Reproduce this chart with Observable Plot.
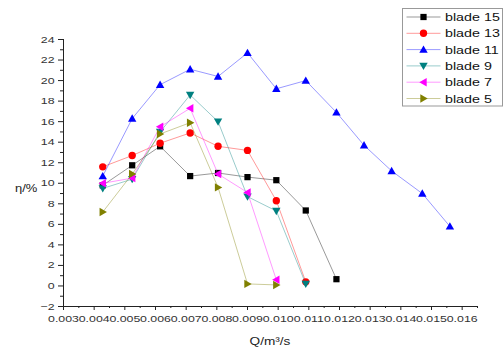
<!DOCTYPE html>
<html>
<head>
<meta charset="utf-8">
<script src="https://cdn.jsdelivr.net/npm/d3@7"></script>
<script src="https://cdn.jsdelivr.net/npm/@observablehq/plot@0.6"></script>
<style>
  html, body { margin: 0; padding: 0; background: #fff; }
</style>
</head>
<body>
<div id="chart"></div>
<script>
// Flow rate Q (m^3/s) grid
const Q = [0.00428, 0.00524, 0.00615, 0.00713, 0.00804, 0.00900, 0.00994, 0.0109, 0.0119, 0.0128, 0.0137, 0.0147, 0.0156];
// Efficiency η (%) per blade count
const blade15 = [9.8, 11.75, 13.6, 10.7, 11.0, 10.6, 10.3, 7.35, 0.66];
const blade13 = [11.6, 12.7, 13.9, 14.9, 13.6, 13.2, 8.3, 0.4];
const blade11 = [10.7, 16.3, 19.6, 21.1, 20.4, 22.7, 19.2, 20.0, 16.9, 13.7, 11.2, 9.0, 5.8];
const blade9  = [9.5, 10.4, 15.0, 18.6, 16.0, 8.7, 7.3, 0.2];
const blade7  = [10.0, 10.5, 15.5, 17.3, 10.9, 9.1, 0.6];
const blade5  = [7.2, 10.9, 14.8, 15.9, 9.6, 0.2, 0.1];
const names = ["blade 15", "blade 13", "blade 11", "blade 9", "blade 7", "blade 5"];
const xTicks = [0.003,0.004,0.005,0.006,0.007,0.008,0.009,0.010,0.011,0.012,0.013,0.014,0.015,0.016];
const yTicks = [-2,0,2,4,6,8,10,12,14,16,18,20,22,24];

function poly(pts) {
  return { draw(ctx, size) {
    const r = Math.sqrt(size / Math.PI);
    ctx.moveTo(pts[0][0]*r, pts[0][1]*r);
    for (let i = 1; i < pts.length; i++) ctx.lineTo(pts[i][0]*r, pts[i][1]*r);
    ctx.closePath();
  }};
}
const sqSym = { draw(ctx, size) { const r = Math.sqrt(size/Math.PI)*0.78; ctx.rect(-r,-r,2*r,2*r); } };
const circSym = { draw(ctx, size) { const r = Math.sqrt(size/Math.PI)*0.92; ctx.moveTo(r,0); ctx.arc(0,0,r,0,2*Math.PI); } };
const upSym = poly([[0,-1.05],[1.05,0.8],[-1.05,0.8]]);
const downSym = poly([[0,1.05],[1.05,-0.8],[-1.05,-0.8]]);
const leftSym = poly([[-1.05,0],[0.8,-1.05],[0.8,1.05]]);
const rightSym = poly([[1.05,0],[-0.8,-1.05],[-0.8,1.05]]);

const seriesVals = [blade15, blade13, blade11, blade9, blade7, blade5];
const colors = ["#000000", "#ff0000", "#0000ff", "#008080", "#ff00ff", "#808000"];
const symbols = [sqSym, circSym, upSym, downSym, leftSym, rightSym];

const series = names.map((name, k) => ({
  name, color: colors[k], symbol: symbols[k],
  rows: seriesVals[k].map((v, i) => ({ q: Q[i], eta: v, name }))
}));

const minorX = d3.range(35, 170, 10).map(d => d / 10000);
const minorY = d3.range(-1, 25, 2);

const marks = [
  Plot.ruleY([-2], { stroke: "#222" }),
  Plot.ruleX([0.003], { stroke: "#222" }),
  Plot.axisX({ ticks: xTicks, tickFormat: d3.format(".3f"), tickSize: 4, tickPadding: 5, label: null, stroke: "#222", fill: "#333" }),
  Plot.axisX({ ticks: minorX, tickFormat: () => "", tickSize: 2, label: null, stroke: "#222" }),
  Plot.axisY({ ticks: yTicks, tickFormat: d3.format("d"), tickSize: 5, tickPadding: 4, label: null, stroke: "#222", fill: "#333" }),
  Plot.axisY({ ticks: minorY, tickFormat: () => "", tickSize: 3, label: null, stroke: "#222" })
];
for (const s of series) {
  marks.push(Plot.line(s.rows, { x: "q", y: "eta", stroke: s.color, strokeOpacity: 0.4, strokeWidth: 1 }));
  marks.push(Plot.dot(s.rows, { x: "q", y: "eta", symbol: s.symbol, r: 4, fill: s.color, stroke: "none" }));
}

const plot = Plot.plot({
  width: 503,
  height: 354,
  marginLeft: 63,
  marginRight: 26,
  marginTop: 39,
  marginBottom: 48,
  x: { domain: [0.003, 0.0165] },
  y: { domain: [-2, 24] },
  style: { fontFamily: "'Liberation Sans', Arial, sans-serif", fontSize: "9.5px", background: "#fff", color: "#333" },
  marks
});
document.getElementById("chart").appendChild(plot);

// horizontally stretch all text (reference image is stretched)
const SX = 1.3;
plot.querySelectorAll("text").forEach(t => {
  const tr = t.getAttribute("transform") || "";
  t.setAttribute("transform", tr + ` scale(${SX},1)`);
});

const svg = d3.select(plot);
function addText(parent, x, y, str, opts = {}) {
  return parent.append("text")
    .attr("transform", `translate(${x},${y}) scale(${SX},1)`)
    .attr("text-anchor", opts.anchor || "start")
    .attr("font-size", opts.size || 10.5)
    .attr("font-weight", opts.weight || "normal")
    .attr("fill", opts.fill || "#222")
    .text(str);
}
addText(svg, 15, 192, "η/%", { size: 10 });
addText(svg, 270, 345, "Q/m³/s", { size: 10.5, anchor: "middle" });

// legend
const lg = svg.append("g").attr("transform", "translate(402.5,8.5)");
lg.append("rect").attr("width", 100).attr("height", 97.5).attr("fill", "#fff").attr("stroke", "#999").attr("stroke-width", 1);
series.forEach((s, k) => {
  const cy = 8.5 + k * 16.3;
  lg.append("line").attr("x1", 4).attr("x2", 38).attr("y1", cy).attr("y2", cy)
    .attr("stroke", s.color).attr("stroke-opacity", 0.4);
  const path = d3.path();
  s.symbol.draw(path, 16 * Math.PI);
  lg.append("path").attr("d", path.toString()).attr("transform", `translate(21,${cy})`).attr("fill", s.color);
  addText(lg, 42.5, cy + 4, s.name, { size: 11, fill: "#111", anchor: "start" });
});
</script>
</body>
</html>
